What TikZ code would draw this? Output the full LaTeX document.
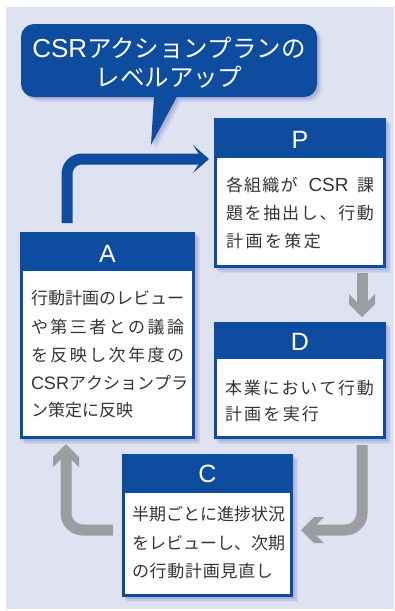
\documentclass[tikz,border=0pt]{standalone}
\usepackage{fontspec}
\setmainfont{Noto Sans CJK JP}
\newfontfamily\lat{Liberation Sans}
\usetikzlibrary{arrows.meta}
\definecolor{bg}{HTML}{DEE2F1}
\definecolor{pblue}{HTML}{0D4C9F}
\definecolor{agray}{HTML}{9C9DA1}
\definecolor{txt}{HTML}{363636}
\definecolor{shc}{HTML}{6A76BE}
\makeatletter
\def\jl@#1#2\jl@end{#1\if\relax\detokenize{#2}\relax\else\hfil\jl@#2\jl@end\fi}
\newcommand\jline[2]{\hbox to #1{\jl@#2\jl@end}}
\makeatother
\pgfdeclarearrow{
  name = ChevG,
  setup code = {
    \pgfarrowssettipend{0pt}
    \pgfarrowssetlineend{-10pt}
    \pgfarrowssetvisualbackend{-23pt}
    \pgfarrowssetbackend{-23pt}
    \pgfarrowshullpoint{0pt}{0pt}
    \pgfarrowsupperhullpoint{-23pt}{13pt}
  },
  drawing code = {
    \pgfpathmoveto{\pgfqpoint{0pt}{0pt}}
    \pgfpathlineto{\pgfqpoint{-13pt}{13pt}}
    \pgfpathlineto{\pgfqpoint{-23pt}{13pt}}
    \pgfpathlineto{\pgfqpoint{-10pt}{0pt}}
    \pgfpathlineto{\pgfqpoint{-23pt}{-13pt}}
    \pgfpathlineto{\pgfqpoint{-13pt}{-13pt}}
    \pgfpathclose
    \pgfusepathqfill
  }
}
\tikzset{
  shadowed/.style={
    preaction={fill=shc, fill opacity=0.10, transform canvas={xshift=5pt,yshift=-5pt}},
    preaction={fill=shc, fill opacity=0.16, transform canvas={xshift=3.5pt,yshift=-3.5pt}},
    preaction={fill=shc, fill opacity=0.22, transform canvas={xshift=2pt,yshift=-2pt}}},
  outerbox/.style={fill=pblue, inner sep=0pt, outer sep=0pt, anchor=north west, shadowed},
  bodybox/.style={fill=white, inner sep=0pt, outer sep=0pt, anchor=north west},
  letter/.style={inner sep=0pt, outer sep=0pt, text=white, font=\lat\fontsize{25}{25}\selectfont,
    text height=17.9pt, text depth=0pt},
  body/.style={anchor=west, inner sep=0pt, outer sep=0pt, text=txt,
    font=\fontsize{17}{17}\selectfont, text height=14.96pt, text depth=2.04pt},
  btext/.style={inner sep=0pt, outer sep=0pt, text=white,
    font=\fontsize{24.5}{24.5}\selectfont, text height=21.5pt, text depth=3pt},
  blueconn/.style={draw=pblue, line width=11pt, rounded corners=15pt,
    -{Stealth[length=16pt,width=28pt,inset=9pt]}},
  grayconn/.style={draw=agray, line width=11pt, rounded corners=17pt, -{ChevG}},
}
\begin{document}
\begin{tikzpicture}[x=1pt,y=-1pt]
\useasboundingbox (0,0) rectangle (394,611);
\fill[bg] (6,7) rectangle (394,609);

% speech bubble
\node[fill=pblue, rounded corners=13pt, inner sep=0pt, outer sep=0pt, anchor=north west,
  minimum width=296pt, minimum height=73pt, shadowed] (bubble) at (21,24) {};
\coordinate (tip) at (151,145);
\fill[pblue, shadowed] ([xshift=-15pt,yshift=0.5pt]bubble.south) -- (tip) -- ([xshift=8pt,yshift=0.5pt]bubble.south) -- cycle;
\node[btext] (B1) at (169,48) {{\lat\fontsize{26}{26}\selectfont CSR}アクションプランの};
\node[btext] (B2) at (169,77) {レベルアップ};

% P box
\node[outerbox, minimum width=172pt, minimum height=150pt] (P) at (214,118) {};
\node[bodybox, minimum width=166pt, minimum height=107pt] (Pw) at ([xshift=3pt,yshift=-40pt]P.north west) {};
\node[letter] (PL) at ([yshift=-22pt]P.north) {P};
\node[body] (P1) at (226,185) {\hbox to 148pt{各\hskip 1.2pt 組\hskip 1.2pt 織\hskip 1.2pt が\hskip 0pt plus 1.3fil{\lat\fontsize{19}{19}\selectfont CSR}\hskip 0pt plus 1fil 課}};
\node[body] (P2) at (226,213) {\jline{148pt}{題を抽出し、行動}};
\node[body] (P3) at (226,241) {\jline{95pt}{計画を策定}};

% A box
\node[outerbox, minimum width=175pt, minimum height=207pt] (A) at (20,232) {};
\node[bodybox, minimum width=169pt, minimum height=165pt] (Aw) at ([xshift=3pt,yshift=-39pt]A.north west) {};
\node[letter] (AL) at ([yshift=-22pt]A.north) {A};
\node[body] (A1) at (31,298) {\jline{153pt}{行動計画のレビュー}};
\node[body] (A2) at (31,327) {\jline{153pt}{や第三者との議論}};
\node[body] (A3) at (31,355) {\jline{153pt}{を反映し次年度の}};
\node[body] (A4) at (31,383) {\jline{153pt}{{{\lat\fontsize{18}{18}\selectfont CSR}}アクションプラ}};
\node[body] (A5) at (31,410) {\jline{102pt}{ン策定に反映}};

% D box
\node[outerbox, minimum width=172pt, minimum height=117pt] (D) at (214,322) {};
\node[bodybox, minimum width=166pt, minimum height=77pt] (Dw) at ([xshift=3pt,yshift=-37pt]D.north west) {};
\node[letter] (DL) at ([yshift=-20pt]D.north) {D};
\node[body] (D1) at (225,388) {\jline{149pt}{本業において行動}};
\node[body] (D2) at (225,414) {\jline{94pt}{計画を実行}};

% C box
\node[outerbox, minimum width=171pt, minimum height=143pt] (C) at (122,454) {};
\node[bodybox, minimum width=165pt, minimum height=101pt] (Cw) at ([xshift=3pt,yshift=-39pt]C.north west) {};
\node[letter] (CL) at ([yshift=-20pt]C.north) {C};
\node[body] (C1) at (132,514) {\jline{151pt}{半期ごとに進捗状況}};
\node[body] (C2) at (132,543) {\jline{151pt}{をレビューし、次期}};
\node[body] (C3) at (132,571) {\jline{141pt}{の行動計画見直し}};

% connectors
\draw[blueconn] ([xshift=47pt,yshift=9pt]A.north west) |- ([xshift=-5pt,yshift=-41pt]P.north west);
\draw[grayconn, rounded corners=0pt] ([xshift=-24pt,yshift=-5pt]P.south east) -- ([xshift=-24pt,yshift=5pt]D.north east);
\draw[grayconn] ([xshift=-24pt,yshift=-6pt]D.south east) |- ([xshift=8pt,yshift=-4.5pt]C.east);
\draw[grayconn] ([xshift=-9pt,yshift=-4.5pt]C.west) -| ([xshift=46pt,yshift=-5pt]A.south west);
\end{tikzpicture}
\end{document}
